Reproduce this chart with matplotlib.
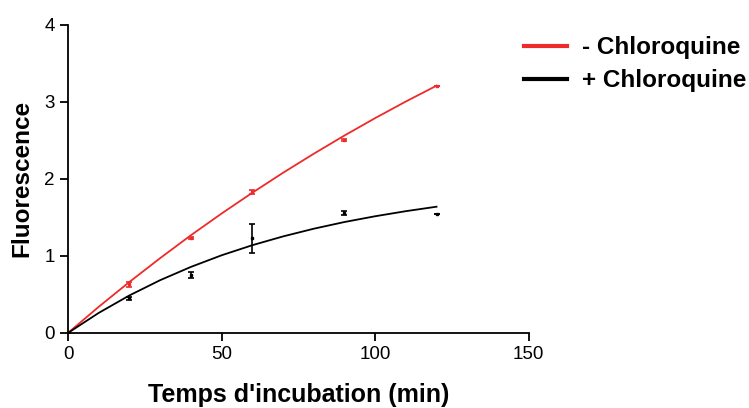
import matplotlib.pyplot as plt
import matplotlib

matplotlib.rcParams['font.family'] = ['Liberation Sans', 'DejaVu Sans']

# measured points (mean, error)
time_pts = [0, 20, 40, 60, 90, 120]
minus_y = [0.0, 0.63, 1.23, 1.83, 2.50, 3.21]
minus_err = [0.0, 0.036, 0.012, 0.032, 0.012, 0.0]
plus_y = [0.0, 0.45, 0.75, 1.23, 1.56, 1.55]
plus_err = [0.0, 0.022, 0.043, 0.19, 0.028, 0.0]

# fitted curves
fit_x = [0, 10, 20, 30, 40, 50, 60, 70, 80, 90, 100, 110, 120]
minus_fit = [0.0, 0.339, 0.662, 0.971, 1.268, 1.550, 1.820, 2.079, 2.326, 2.563, 2.789, 3.005, 3.210]
plus_fit = [0.0, 0.260, 0.487, 0.685, 0.857, 1.008, 1.139, 1.253, 1.353, 1.440, 1.515, 1.581, 1.639]

red = '#ee2a2a'

fig = plt.figure(figsize=(7.49, 4.08), dpi=100)
ax = fig.add_axes([0.0908, 0.184, 0.615, 0.755])

ax.plot(fit_x, minus_fit, color=red, lw=1.3, label='- Chloroquine')
ax.plot(fit_x, plus_fit, color='black', lw=1.3, label='+ Chloroquine')
ax.errorbar(time_pts, minus_y, yerr=minus_err, fmt='s', ms=1.6, color=red,
            ecolor=red, elinewidth=1.2, capsize=2.5, capthick=1.2)
ax.errorbar(time_pts, plus_y, yerr=plus_err, fmt='s', ms=1.6, color='black',
            ecolor='black', elinewidth=1.2, capsize=2.5, capthick=1.2)

ax.set_xlim(0, 150)
ax.set_ylim(0, 4)
ax.set_xticks([0, 50, 100, 150])
ax.set_yticks([0, 1, 2, 3, 4])
ax.spines['top'].set_visible(False)
ax.spines['right'].set_visible(False)
for s in ['left', 'bottom']:
    ax.spines[s].set_linewidth(1.3)
ax.tick_params(direction='out', length=6, width=1.3, labelsize=13.5, color='black')
ax.set_xlabel("Temps d'incubation (min)", fontsize=18, fontweight='bold', labelpad=14)
ax.set_ylabel('Fluorescence', fontsize=17.5, fontweight='bold', labelpad=8)

fig.legend(handles=ax.get_lines()[:2], loc='upper left', bbox_to_anchor=(0.671, 0.965),
           frameon=False, prop={'size': 17.5, 'weight': 'bold'}, handlelength=1.75,
           handletextpad=0.6, labelspacing=0.42)
for l in fig.legends[0].get_lines():
    l.set_linewidth(3)

plt.savefig('out.png', dpi=100)
